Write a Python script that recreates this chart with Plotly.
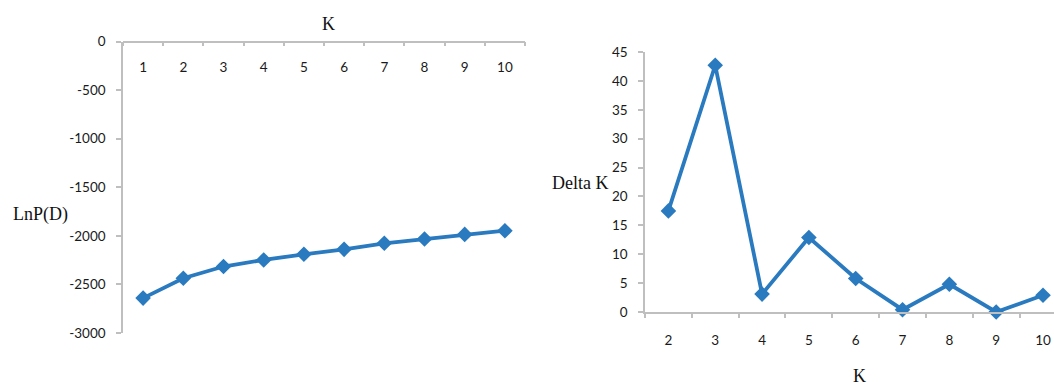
import plotly.graph_objects as go

# ---- data ----
k_left = [1, 2, 3, 4, 5, 6, 7, 8, 9, 10]
lnp_d = [-2641, -2436, -2316, -2248, -2190, -2139, -2077, -2033, -1985, -1947]

k_right = [2, 3, 4, 5, 6, 7, 8, 9, 10]
delta_k = [17.5, 42.7, 3.1, 12.9, 5.8, 0.4, 4.8, 0.0, 2.9]

left_yticks = [0, -500, -1000, -1500, -2000, -2500, -3000]
left_yticktext = ["0", "-500", "-1000", "-1500", "-2000", "-2500", "-3000"]
left_xticks = k_left
right_xticks = k_right
right_yticks = [0, 5, 10, 15, 20, 25, 30, 35, 40, 45]

W, H = 1054, 385
BLUE = "#2A7AC0"
GRAY = "#BFBFBF"
TICKFONT = dict(family="Lato", size=13.5, color="#1a1a1a")
TITLEFONT = dict(family="Liberation Serif", size=18, color="#111111")

fig = go.Figure()

fig.add_trace(go.Scatter(
    x=k_left, y=lnp_d, mode="lines+markers",
    line=dict(color=BLUE, width=3.8),
    marker=dict(symbol="diamond", size=12, color=BLUE),
    xaxis="x", yaxis="y", cliponaxis=False, showlegend=False,
))
fig.add_trace(go.Scatter(
    x=k_right, y=delta_k, mode="lines+markers",
    line=dict(color=BLUE, width=3.8),
    marker=dict(symbol="diamond", size=12, color=BLUE),
    xaxis="x2", yaxis="y2", cliponaxis=False, showlegend=False,
))

left_ydom = [(H - 333) / H, (H - 41.5) / H]


def label(text, px, py):
    return dict(text=text, x=px / W, y=(H - py) / H, xref="paper", yref="paper",
                xanchor="center", yanchor="middle", showarrow=False, font=TITLEFONT)


fig.update_layout(
    width=W, height=H,
    margin=dict(l=0, r=0, t=0, b=0, pad=0),
    paper_bgcolor="white", plot_bgcolor="white",
    xaxis=dict(
        domain=[123 / W, 525 / W], range=[0.5, 10.5],
        anchor="free", position=left_ydom[1], side="bottom",
        showgrid=False, zeroline=False, automargin=False,
        showline=True, linecolor=GRAY, linewidth=1.5,
        tickvals=left_xticks, ticks="", ticklabelstandoff=14,
        tickfont=TICKFONT,
        minor=dict(tick0=0.5, dtick=1, ticks="outside", ticklen=4,
                   tickcolor=GRAY, tickwidth=1.5, showgrid=False),
    ),
    yaxis=dict(
        domain=left_ydom, range=[-3000, 0], anchor="x",
        showgrid=False, zeroline=False, automargin=False,
        showline=True, linecolor=GRAY, linewidth=1.5,
        tickvals=left_yticks, ticktext=left_yticktext,
        ticks="outside", ticklen=5, tickcolor=GRAY, tickwidth=1.5,
        ticklabelstandoff=8,
        tickfont=TICKFONT,
    ),
    xaxis2=dict(
        domain=[645 / W, 1.0], range=[1.5, 10.235], anchor="y2",
        showgrid=False, zeroline=False, automargin=False,
        showline=True, linecolor=GRAY, linewidth=1.5,
        tickvals=right_xticks, ticks="", ticklabelstandoff=15,
        tickfont=TICKFONT,
        minor=dict(tick0=0.5, dtick=1, ticks="outside", ticklen=4,
                   tickcolor=GRAY, tickwidth=1.5, showgrid=False),
    ),
    yaxis2=dict(
        domain=[(H - 312) / H, (H - 52) / H], range=[0, 45], anchor="x2",
        showgrid=False, zeroline=False, automargin=False,
        showline=True, linecolor=GRAY, linewidth=1.5,
        tickvals=right_yticks,
        ticks="outside", ticklen=5, tickcolor=GRAY, tickwidth=1.5,
        ticklabelstandoff=8,
        tickfont=TICKFONT,
    ),
    annotations=[
        label("K", 328, 24),
        label("LnP(D)", 40, 214),
        label("Delta K", 580, 183),
        label("K", 859, 376),
    ],
)

fig.write_html("out.html", config={"displayModeBar": False},
               post_script="document.body.style.margin='0';")
